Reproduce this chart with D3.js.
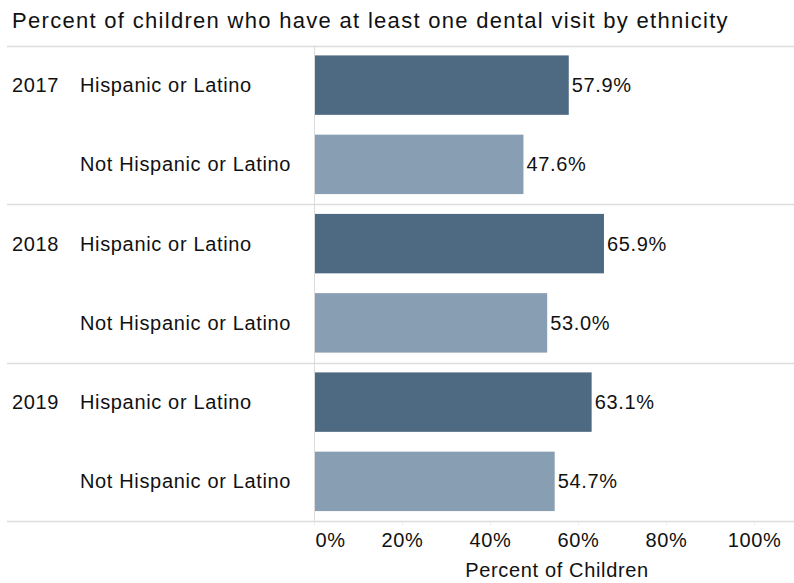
<!DOCTYPE html>
<html>
<head>
<meta charset="utf-8">
<script src="https://cdn.jsdelivr.net/npm/d3@7"></script>
<style>
  body { margin: 0; background: #fff; }
  svg { display: block; font-family: "Liberation Sans", Arial, sans-serif; }
</style>
</head>
<body>
<svg id="chart" width="794" height="583"></svg>
<script>
const title = "Percent of children who have at least one dental visit by ethnicity";
const years = ["2017", "2018", "2019"];
const ethnicities = ["Hispanic or Latino", "Not Hispanic or Latino"];
const hispanicValues = [57.9, 65.9, 63.1];
const notHispanicValues = [47.6, 53.0, 54.7];
const tickValues = [0, 20, 40, 60, 80, 100];
const tickLabels = ["0%", "20%", "40%", "60%", "80%", "100%"];
const axisTitle = "Percent of Children";

(function () {
const rows = [];
years.forEach((y, i) => {
  rows.push({ year: y, eth: ethnicities[0], value: hispanicValues[i], idx: 0 });
  rows.push({ year: y, eth: ethnicities[1], value: notHispanicValues[i], idx: 1 });
});
rows.forEach(r => r.key = r.year + "|" + r.eth);

const svg = d3.select("#chart");
const plotTop = 45.5, plotBottom = 521, plotLeft = 314, plotRight = 794;
const fs = 20, ls = 0.65;
const x = d3.scaleLinear().domain([0, 100]).range([314, 754]);
const yBand = d3.scaleBand().domain(rows.map(r => r.key)).range([plotTop, plotBottom])
  .paddingInner(0.25).paddingOuter(0.125);
const color = d3.scaleOrdinal().domain(ethnicities).range(["#4e6982", "#879eb3"]);
const lineColor = "#dcdcdc";

// title
svg.append("text").attr("x", 12).attr("y", 28)
  .attr("font-size", 22).attr("letter-spacing", 1.3).attr("fill", "#111")
  .text(title);

// group separators
const groupEdges = [plotTop].concat(years.map((y, i) => yBand(rows[i * 2 + 1].key) + yBand.bandwidth() + yBand.step() * 0.125));
svg.selectAll("line.sep").data(groupEdges).join("line")
  .attr("class", "sep")
  .attr("x1", 7).attr("x2", plotRight)
  .attr("y1", d => Math.round(d) + 0.5).attr("y2", d => Math.round(d) + 0.5)
  .attr("stroke", lineColor).attr("stroke-width", 1.5);

// zero line
svg.append("line").attr("x1", plotLeft + 0.5).attr("x2", plotLeft + 0.5)
  .attr("y1", plotTop).attr("y2", plotBottom + 4)
  .attr("stroke", lineColor).attr("stroke-width", 1);

// bars
svg.selectAll("rect.bar").data(rows).join("rect")
  .attr("class", "bar")
  .attr("x", x(0) + 1)
  .attr("y", d => yBand(d.key))
  .attr("width", d => x(d.value) - x(0) - 1)
  .attr("height", yBand.bandwidth())
  .attr("fill", d => color(d.eth));

// value labels
svg.selectAll("text.val").data(rows).join("text")
  .attr("class", "val")
  .attr("x", d => x(d.value) + 3)
  .attr("y", d => yBand(d.key) + yBand.bandwidth() / 2)
  .attr("dy", "0.35em")
  .attr("font-size", fs).attr("letter-spacing", ls).attr("fill", "#111")
  .text(d => d.value.toFixed(1) + "%");

// category labels
svg.selectAll("text.cat").data(rows).join("text")
  .attr("class", "cat")
  .attr("x", 80)
  .attr("y", d => yBand(d.key) + yBand.bandwidth() / 2)
  .attr("dy", "0.35em")
  .attr("font-size", fs).attr("letter-spacing", ls).attr("fill", "#111")
  .text(d => d.eth);

// year labels
svg.selectAll("text.yr").data(rows.filter(r => r.idx === 0)).join("text")
  .attr("class", "yr")
  .attr("x", 12)
  .attr("y", d => yBand(d.key) + yBand.bandwidth() / 2)
  .attr("dy", "0.35em")
  .attr("font-size", fs).attr("letter-spacing", ls).attr("fill", "#111")
  .text(d => d.year);

// x axis
const axis = d3.axisBottom(x).tickValues(tickValues).tickSize(4)
  .tickFormat((d, i) => tickLabels[i]);
const gx = svg.append("g").attr("transform", `translate(0,${Math.round(plotBottom) + 0.5})`).call(axis);
gx.select(".domain").remove();
gx.selectAll(".tick line").attr("stroke", "#ececec");
gx.selectAll(".tick text")
  .attr("font-family", "Liberation Sans, Arial, sans-serif")
  .attr("font-size", fs).attr("letter-spacing", ls).attr("fill", "#111")
  .attr("y", 11).attr("dy", "0.71em");
gx.selectAll(".tick").filter(d => d === 0).select("text")
  .attr("text-anchor", "start").attr("x", 1);

// axis title
svg.append("text").attr("x", 557).attr("y", 577)
  .attr("text-anchor", "middle")
  .attr("font-size", fs).attr("letter-spacing", ls).attr("fill", "#111")
  .text(axisTitle);
})();
</script>
</body>
</html>
